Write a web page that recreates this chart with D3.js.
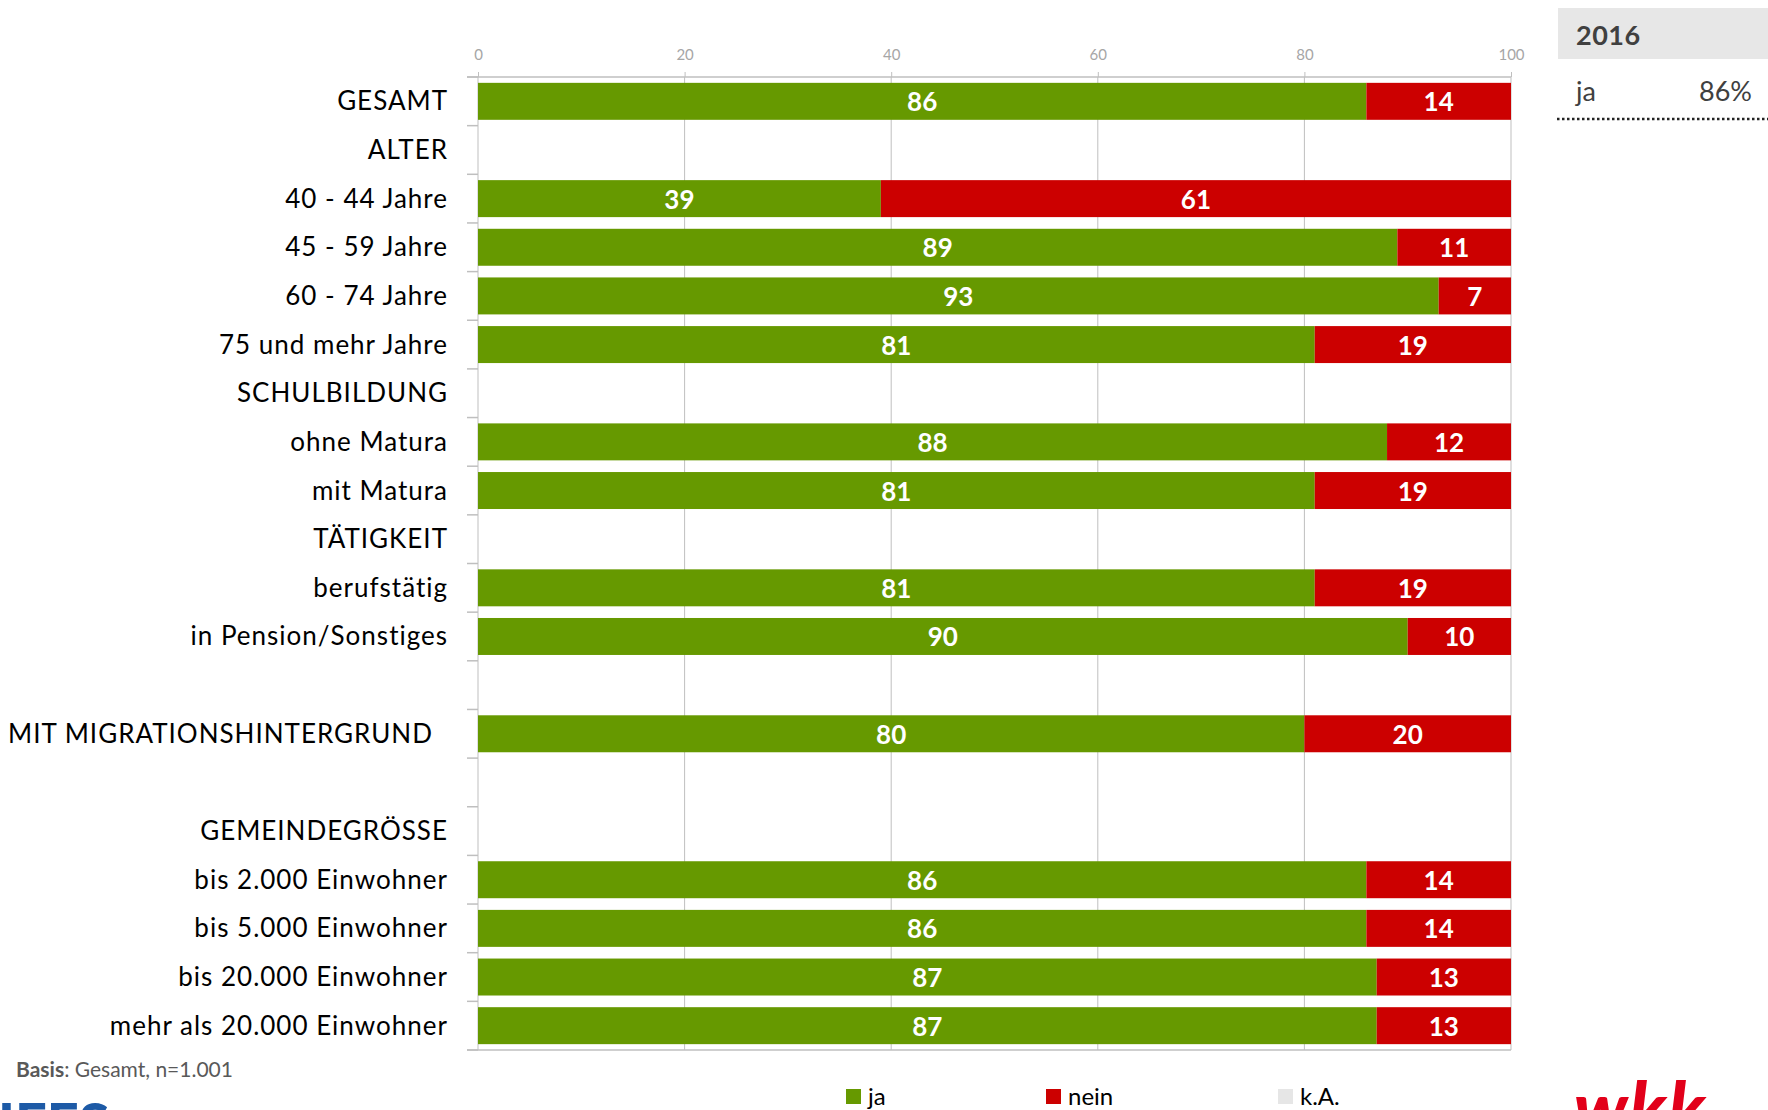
<!DOCTYPE html>
<html><head><meta charset="utf-8">
<script src="https://cdn.jsdelivr.net/npm/d3@7"></script>
<style>
html,body{margin:0;padding:0;background:#fff;}
svg{display:block;font-family:Lato,"Open Sans",sans-serif;}
</style></head>
<body>
<svg id="c" width="1768" height="1110"></svg>
<script>
const categories = ["GESAMT","ALTER","40 - 44 Jahre","45 - 59 Jahre","60 - 74 Jahre","75 und mehr Jahre","SCHULBILDUNG","ohne Matura","mit Matura","TÄTIGKEIT","berufstätig","in Pension/Sonstiges","","MIT MIGRATIONSHINTERGRUND","","GEMEINDEGRÖSSE","bis 2.000 Einwohner","bis 5.000 Einwohner","bis 20.000 Einwohner","mehr als 20.000 Einwohner"];
const ja   = [86,null,39,89,93,81,null,88,81,null,81,90,null,80,null,null,86,86,87,87];
const nein = [14,null,61,11,7,19,null,12,19,null,19,10,null,20,null,null,14,14,13,13];
const ka   = [0,null,0,0,0,0,null,0,0,null,0,0,null,0,null,null,0,0,0,0];
const xTicks = [0,20,40,60,80,100];
const seriesNames = ["ja","nein","k.A."];
const seriesColors = ["#669900","#cc0000","#e6e6e6"];
const summaryYear = "2016";
const summaryLabel = "ja";
const summaryValue = "86%";
const basisNote = ["Basis", ": Gesamt, n=1.001"];

const svg = d3.select("#c");
const x = d3.scaleLinear().domain([0,100]).range([478,1511]);
const y = d3.scaleBand().domain(d3.range(categories.length)).range([77,1050]).paddingInner(0.24).paddingOuter(0.12);
const grid = "#bfbfbf";

// gridlines + top axis
const gTop = svg.append("g").attr("transform",`translate(0,77)`)
  .call(d3.axisTop(x).tickValues(xTicks).tickSize(5).tickPadding(12));
gTop.select(".domain").remove();
gTop.selectAll(".tick line").attr("stroke",grid);
gTop.selectAll(".tick text").attr("fill","#a6a6a6").style("font-size","15px").style("font-family","Lato");
svg.append("g").selectAll("line").data(xTicks).join("line")
  .attr("x1",d=>x(d)).attr("x2",d=>x(d)).attr("y1",77).attr("y2",1050)
  .attr("stroke",grid).attr("stroke-width",1);
// top and bottom horizontal lines
[77,1050].forEach(yy=>{
  svg.append("line").attr("x1",467).attr("x2",x(100)).attr("y1",yy).attr("y2",yy).attr("stroke",grid).attr("stroke-width",1.5);
});
// left boundary ticks
const bounds = d3.range(categories.length+1).map(i=>y.range()[0]+i*y.step());
svg.append("g").selectAll("line").data(bounds).join("line")
  .attr("x1",467).attr("x2",x(0)).attr("y1",d=>d).attr("y2",d=>d).attr("stroke",grid).attr("stroke-width",1.5);

// stacked data
const rows = categories.map((c,i)=>({i, c, ja:ja[i], nein:nein[i], ka:ka[i]}));
const stack = d3.stack().keys(["ja","nein","ka"]).value((d,k)=>d[k]||0);
const stacked = stack(rows.filter(r=>r.ja!==null));
const g = svg.append("g");
stacked.forEach((s,si)=>{
  g.append("g").attr("fill",seriesColors[si]).selectAll("rect").data(s.filter(d=>d[1]>d[0])).join("rect")
    .attr("x",d=>x(d[0])).attr("width",d=>x(d[1])-x(d[0]))
    .attr("y",d=>y(d.data.i)).attr("height",y.bandwidth());
  if(si<2){
    g.append("g").selectAll("text").data(s.filter(d=>d[1]>d[0])).join("text")
      .attr("x",d=>(x(d[0])+x(d[1]))/2).attr("y",d=>y(d.data.i)+y.bandwidth()/2+10)
      .attr("text-anchor","middle").attr("fill","#fff").style("font-size","26px").style("font-weight","700")
      .text(d=>d[1]-d[0]);
  }
});

// category labels
const labelX = 448;
svg.append("g").selectAll("text").data(rows).join("text")
  .attr("x",d=>d.c==="MIT MIGRATIONSHINTERGRUND"?433:labelX)
  .attr("y",d=>y(d.i)+y.bandwidth()/2+9)
  .attr("text-anchor","end").attr("fill","#000").style("font-size","26px").style("letter-spacing","1px")
  .text(d=>d.c);

// summary box
svg.append("rect").attr("x",1558).attr("y",8).attr("width",210).attr("height",51).attr("fill","#e7e7e7");
svg.append("text").attr("x",1576).attr("y",45).attr("fill","#404040").style("font-size","27px").style("font-weight","700").style("letter-spacing","0.5px").text(summaryYear);
svg.append("text").attr("x",1576).attr("y",101).attr("fill","#404040").style("font-size","27px").text(summaryLabel);
svg.append("text").attr("x",1752).attr("y",101).attr("text-anchor","end").attr("fill","#404040").style("font-size","27px").text(summaryValue);
svg.append("line").attr("x1",1557).attr("x2",1768).attr("y1",119).attr("y2",119).attr("stroke","#222").attr("stroke-width",2.5).attr("stroke-dasharray","2.5,2.5");

// basis note
const bt = svg.append("text").attr("x",16).attr("y",1077).attr("fill","#595959").style("font-size","21px");
bt.append("tspan").style("font-weight","700").text(basisNote[0]);
bt.append("tspan").text(basisNote[1]);

// legend
const legX = [846,1046,1278];
const lg = svg.append("g").selectAll("g").data(seriesNames).join("g").attr("transform",(d,i)=>`translate(${legX[i]},1089)`);
lg.append("rect").attr("width",15).attr("height",15).attr("fill",(d,i)=>seriesColors[i]);
lg.append("text").attr("x",22).attr("y",16).attr("fill","#000").style("font-size","24px").text(d=>d);

// logos (cut off at bottom, as in the source)
svg.append("text").attr("x",-2).attr("y",1143).attr("fill","#1d5aa6").style("font-size","56px").style("font-weight","900").text("IFES");
svg.append("text").attr("x",1574).attr("y",1134).attr("fill","#e2001a").style("font-size","72px").style("font-weight","900").style("font-style","italic").style("letter-spacing","2px").text("wkk");
</script>
</body></html>
